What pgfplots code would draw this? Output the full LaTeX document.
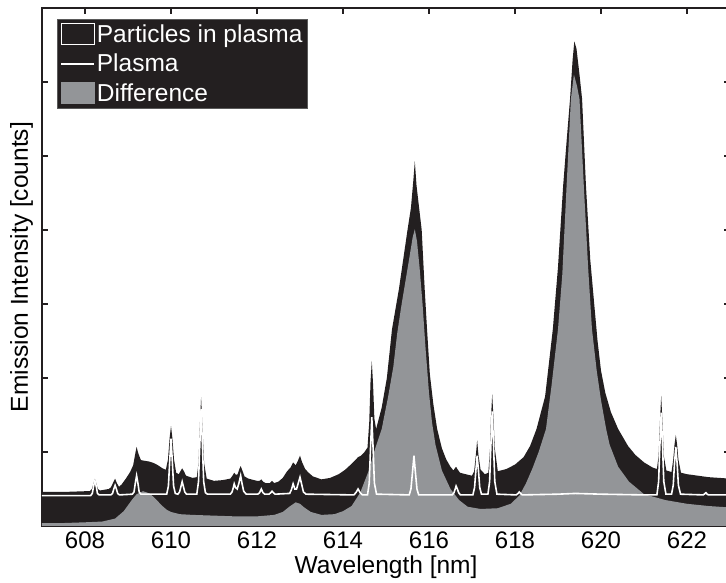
\documentclass[border=0pt]{standalone}
\usepackage{fontspec}
\setmainfont{Liberation Sans}
\usepackage{pgfplots}
\pgfplotsset{compat=1.18}
\definecolor{pblack}{RGB}{35,31,32}
\definecolor{dgray}{RGB}{147,149,152}
\begin{document}
\begin{tikzpicture}
\begin{axis}[
 scale only axis, width=688pt, height=518pt,
 xmin=607, xmax=623, ymin=0, ymax=7,
 xtick={608,610,...,622}, ytick={0,...,7}, yticklabels={},
 axis line style={pblack, line width=1.8pt},
 tick style={pblack, line width=1.4pt},
 major tick length=6pt,
 tick align=inside,
 /pgf/number format/assume math mode=true,
 xticklabel style={font=\fontsize{24}{28}\selectfont, yshift=-2pt},
 xlabel={Wavelength [nm]}, ylabel={Emission Intensity [counts]},
 label style={font=\fontsize{24.5}{29}\selectfont},
 ylabel style={at={(axis description cs:-0.008,0.5)}, anchor=south},
 xlabel style={yshift=0pt},
 legend cell align=left,
 legend style={at={(0,1)}, anchor=north west, xshift=15pt, yshift=-11pt,
   fill=pblack, draw={rgb,255:red,90;green,90;blue,90}, line width=0.8pt, text=white,
   font=\fontsize{24.5}{29}\selectfont, inner sep=3pt, row sep=6.5pt},
]
\addlegendimage{legend image code/.code={\draw[fill=pblack,draw=white,line width=0.8pt] (2pt,-10pt) rectangle (35pt,11pt);}}
\addlegendentry{Particles in plasma}
\addlegendimage{legend image code/.code={\draw[white,line width=1.5pt] (2pt,0pt) -- (35pt,0pt);}}
\addlegendentry{Plasma}
\addlegendimage{legend image code/.code={\fill[dgray] (2pt,-10pt) rectangle (35pt,11pt);}}
\addlegendentry{Difference}
% Particles in plasma
\addplot[fill=pblack, draw=none, forget plot] coordinates {
(607.0,0.46) (607.5,0.46) (608.0,0.47) (608.11,0.47) (608.16,0.5) (608.2,0.58) (608.23,0.64) (608.26,0.58) (608.3,0.5) (608.35,0.48)
(608.55,0.5) (608.6,0.52) (608.65,0.58) (608.7,0.64) (608.74,0.58) (608.79,0.53) (608.85,0.56) (608.95,0.64) (609.05,0.73) (609.12,0.82)
(609.17,0.98) (609.2,1.07) (609.24,0.98) (609.3,0.89) (609.4,0.88) (609.5,0.87) (609.6,0.85) (609.7,0.82) (609.8,0.78) (609.88,0.76)
(609.93,0.9) (609.97,1.2) (610.0,1.35) (610.03,1.2) (610.07,0.9) (610.12,0.72) (610.18,0.7) (610.22,0.74) (610.26,0.78) (610.3,0.74)
(610.35,0.68) (610.5,0.65) (610.6,0.66) (610.64,0.85) (610.67,1.35) (610.7,1.74) (610.73,1.35) (610.77,0.85) (610.83,0.64) (611.0,0.61)
(611.2,0.62) (611.38,0.64) (611.43,0.68) (611.47,0.72) (611.51,0.69) (611.55,0.7) (611.59,0.77) (611.62,0.81) (611.66,0.75) (611.71,0.67)
(611.8,0.64) (612.0,0.61) (612.06,0.61) (612.1,0.63) (612.14,0.6) (612.2,0.58) (612.3,0.58) (612.35,0.61) (612.4,0.58) (612.5,0.6)
(612.6,0.65) (612.7,0.74) (612.78,0.79) (612.84,0.86) (612.9,0.82) (612.95,0.88) (613.0,0.95) (613.05,0.86) (613.12,0.77) (613.2,0.72)
(613.3,0.67) (613.5,0.63) (613.7,0.65) (613.9,0.7) (614.05,0.76) (614.2,0.84) (614.3,0.9) (614.35,0.93) (614.42,0.95) (614.5,1.0)
(614.57,1.06) (614.61,1.4) (614.64,1.95) (614.67,2.23) (614.7,1.9) (614.73,1.45) (614.77,1.31) (614.9,1.6) (615.02,2.0) (615.14,2.66)
(615.3,3.2) (615.4,3.6) (615.5,4.0) (615.58,4.3) (615.64,4.7) (615.67,4.93) (615.71,4.6) (615.77,4.3) (615.83,4.0) (615.9,3.2)
(615.95,2.7) (616.02,2.05) (616.1,1.65) (616.19,1.31) (616.3,1.05) (616.4,0.9) (616.5,0.8) (616.57,0.75) (616.6,0.78) (616.63,0.8)
(616.66,0.77) (616.72,0.72) (616.85,0.7) (617.0,0.68) (617.05,0.74) (617.09,0.96) (617.12,1.16) (617.15,0.96) (617.2,0.76) (617.3,0.7)
(617.38,0.72) (617.42,1.05) (617.44,1.45) (617.47,1.78) (617.5,1.45) (617.53,1.05) (617.6,0.74) (617.8,0.77) (618.0,0.83) (618.2,0.93)
(618.35,1.08) (618.5,1.31) (618.7,1.75) (618.88,2.66) (619.0,3.5) (619.12,4.6) (619.2,5.2) (619.28,5.77) (619.34,6.3) (619.38,6.55)
(619.43,6.45) (619.5,6.1) (619.56,5.77) (619.65,4.6) (619.75,3.6) (619.85,2.95) (619.92,2.5) (620.0,2.1) (620.1,1.8) (620.23,1.54)
(620.4,1.31) (620.63,1.08) (620.8,0.96) (621.0,0.86) (621.2,0.79) (621.3,0.77) (621.34,0.95) (621.37,1.4) (621.4,1.76) (621.43,1.4)
(621.46,0.95) (621.52,0.75) (621.64,0.73) (621.68,0.9) (621.71,1.1) (621.74,1.23) (621.77,1.1) (621.8,0.9) (621.86,0.72) (622.0,0.7)
(622.5,0.66) (623.0,0.64)
} \closedcycle;
% Difference
\addplot[fill=dgray, draw=none, forget plot] coordinates {
(607.0,0.04) (607.5,0.04) (608.0,0.05) (608.4,0.06) (608.7,0.1) (608.9,0.2) (609.0,0.28) (609.1,0.36) (609.2,0.43) (609.35,0.47)
(609.5,0.44) (609.6,0.39) (609.7,0.33) (609.8,0.27) (609.9,0.22) (610.0,0.19) (610.2,0.16) (610.5,0.15) (611.0,0.14) (611.5,0.13)
(612.0,0.13) (612.4,0.15) (612.6,0.19) (612.75,0.26) (612.9,0.32) (613.0,0.3) (613.1,0.25) (613.25,0.19) (613.5,0.15) (613.8,0.16)
(614.0,0.2) (614.2,0.27) (614.4,0.45) (614.6,0.75) (614.75,1.05) (614.9,1.31) (615.05,1.75) (615.17,2.15) (615.26,2.6) (615.35,2.95)
(615.45,3.3) (615.55,3.65) (615.62,3.9) (615.67,4.01) (615.72,3.85) (615.78,3.5) (615.85,3.0) (615.92,2.4) (616.0,1.8) (616.07,1.4)
(616.15,1.1) (616.3,0.75) (616.5,0.5) (616.7,0.35) (616.9,0.26) (617.2,0.23) (617.6,0.24) (617.9,0.3) (618.1,0.41) (618.25,0.57)
(618.4,0.77) (618.55,1.0) (618.72,1.31) (618.85,1.9) (619.0,2.66) (619.1,3.4) (619.2,4.6) (619.3,5.77) (619.37,6.1) (619.44,5.95)
(619.5,5.77) (619.6,4.6) (619.7,3.5) (619.79,2.66) (619.9,2.1) (620.0,1.7) (620.12,1.31) (620.2,1.1) (620.4,0.8) (620.65,0.6)
(621.0,0.43) (621.5,0.35) (622.0,0.3) (622.5,0.27) (623.0,0.25)
} \closedcycle;
% Plasma
\addplot[white, line width=1.6pt, forget plot] coordinates {
(607.0,0.41) (607.5,0.41) (608.0,0.41) (608.13,0.41) (608.17,0.44) (608.2,0.54) (608.23,0.61) (608.26,0.54) (608.29,0.44) (608.33,0.42)
(608.6,0.42) (608.64,0.44) (608.67,0.5) (608.7,0.55) (608.73,0.5) (608.76,0.44) (608.8,0.42) (609.1,0.43) (609.14,0.46) (609.17,0.58)
(609.2,0.68) (609.23,0.58) (609.26,0.46) (609.3,0.43) (609.9,0.43) (609.94,0.54) (609.97,0.88) (610.0,1.18) (610.03,0.88) (610.06,0.54)
(610.1,0.44) (610.16,0.43) (610.2,0.46) (610.23,0.53) (610.26,0.6) (610.29,0.53) (610.32,0.46) (610.36,0.43) (610.6,0.43) (610.64,0.6)
(610.67,1.1) (610.7,1.58) (610.73,1.1) (610.76,0.6) (610.8,0.45) (610.85,0.43) (611.38,0.43) (611.42,0.46) (611.45,0.52) (611.47,0.57)
(611.5,0.52) (611.54,0.5) (611.58,0.58) (611.62,0.68) (611.65,0.58) (611.69,0.47) (611.75,0.43) (612.02,0.43) (612.06,0.45) (612.1,0.5)
(612.14,0.45) (612.18,0.43) (612.28,0.43) (612.32,0.45) (612.35,0.47) (612.38,0.45) (612.42,0.43) (612.76,0.44) (612.8,0.49) (612.84,0.57)
(612.88,0.5) (612.92,0.5) (612.96,0.58) (613.0,0.66) (613.04,0.56) (613.08,0.46) (613.14,0.43) (614.25,0.42) (614.3,0.45) (614.35,0.5)
(614.4,0.45) (614.45,0.42) (614.57,0.42) (614.61,0.58) (614.64,1.05) (614.67,1.47) (614.7,1.05) (614.73,0.58) (614.78,0.43) (615.54,0.42)
(615.58,0.5) (615.62,0.75) (615.65,0.95) (615.68,0.75) (615.72,0.5) (615.76,0.42) (616.54,0.42) (616.58,0.45) (616.61,0.5) (616.63,0.54)
(616.66,0.5) (616.69,0.45) (616.73,0.42) (617.02,0.42) (617.06,0.52) (617.09,0.75) (617.12,0.95) (617.15,0.75) (617.18,0.52) (617.22,0.43)
(617.37,0.43) (617.41,0.6) (617.44,1.1) (617.47,1.55) (617.5,1.1) (617.53,0.6) (617.58,0.43) (618.03,0.42) (618.07,0.44) (618.1,0.46)
(618.13,0.44) (618.17,0.42) (619.0,0.43) (619.4,0.44) (620.0,0.43) (621.0,0.42) (621.3,0.42) (621.34,0.6) (621.37,1.1) (621.4,1.53)
(621.43,1.1) (621.46,0.6) (621.51,0.43) (621.64,0.43) (621.68,0.55) (621.71,0.85) (621.74,1.07) (621.77,0.85) (621.8,0.55) (621.85,0.43)
(622.38,0.42) (622.42,0.44) (622.44,0.45) (622.47,0.43) (622.5,0.42) (623.0,0.42)
};
\end{axis}
\pgfresetboundingbox
\path ([xshift=-42pt,yshift=-57pt]current axis.south west) rectangle ([xshift=-4pt,yshift=8pt]current axis.north east);
\end{tikzpicture}
\end{document}
